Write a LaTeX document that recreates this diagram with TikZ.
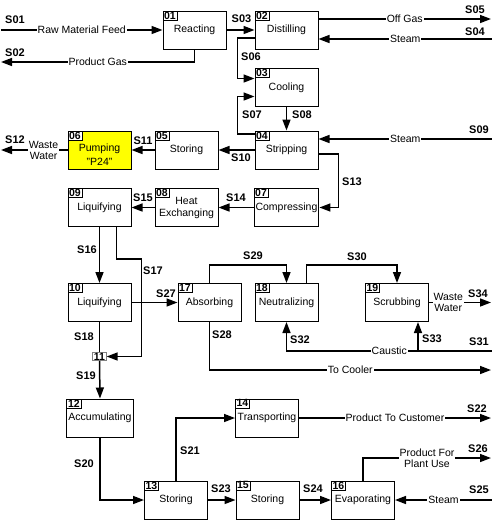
\documentclass[tikz,border=0pt]{standalone}
\usepackage{fontspec}
\setmainfont{Liberation Sans}
\usetikzlibrary{arrows.meta,positioning}

\definecolor{pumpyellow}{RGB}{255,255,0}

\tikzset{
    unit/.style={draw, line width=1pt, minimum width=63pt, minimum height=38pt,
        align=center, inner sep=1.5pt, font=\fontsize{10.5}{12}\selectfont},
    tag/.style={draw, line width=0.6pt, fill=white, anchor=north west,
        inner xsep=1.3pt, inner ysep=0.9pt, font=\bfseries\fontsize{10.5}{10.5}\selectfont},
    flow/.style={line width=1.5pt, -{Triangle[length=11pt,width=8pt]}},
    pipe/.style={line width=1.5pt},
    sid/.style={inner sep=0pt, font=\bfseries\fontsize{11}{11}\selectfont},
    tx/.style={fill=white, inner sep=1pt, align=center, font=\fontsize{10.5}{11}\selectfont},
}

\begin{document}
\begin{tikzpicture}[x=1pt, y=-1pt]
    \useasboundingbox (0,0) rectangle (492,520);

    % Process units
    \node[unit] (u01) at (194.5,30) {Reacting};
    \node[unit] (u02) at (286.5,30) {Distilling};
    \node[unit] (u03) at (286.5,87.5) {Cooling};
    \node[unit] (u04) at (286.5,150) {Stripping};
    \node[unit] (u05) at (186.5,150) {Storing};
    \node[unit, fill=pumpyellow] (u06) at (99.5,150) {\rule{0pt}{17pt}Pumping\\[1.5pt]"P24"};
    \node[unit] (u07) at (286.5,207.5) {Compressing};
    \node[unit] (u08) at (186.5,207.5) {Heat\\Exchanging};
    \node[unit] (u09) at (99.5,207.5) {Liquifying};
    \node[unit] (u10) at (99.5,302.5) {Liquifying};
    \node[tag, anchor=center, draw=gray, inner ysep=0.4pt] (u11) at (99.5,356.5) {11};
    \node[unit] (u12) at (100,418) {Accumulating};
    \node[unit] (u13) at (176,500) {Storing};
    \node[unit] (u14) at (267,418) {Transporting};
    \node[unit] (u15) at (267.5,500) {Storing};
    \node[unit] (u16) at (363,500) {Evaporating};
    \node[unit] (u17) at (209.5,302.5) {Absorbing};
    \node[unit] (u18) at (286.5,302.5) {Neutralizing};
    \node[unit] (u19) at (397,302.5) {Scrubbing};

    % Number tags
    \node[tag] (t01) at (u01.north west) {01};
    \node[tag] (t02) at (u02.north west) {02};
    \node[tag] (t03) at (u03.north west) {03};
    \node[tag] (t04) at (u04.north west) {04};
    \node[tag] (t05) at (u05.north west) {05};
    \node[tag] (t06) at (u06.north west) {06};
    \node[tag] (t07) at (u07.north west) {07};
    \node[tag] (t08) at (u08.north west) {08};
    \node[tag] (t09) at (u09.north west) {09};
    \node[tag] (t10) at (u10.north west) {10};
    \node[tag] (t12) at (u12.north west) {12};
    \node[tag] (t13) at (u13.north west) {13};
    \node[tag] (t14) at (u14.north west) {14};
    \node[tag] (t15) at (u15.north west) {15};
    \node[tag] (t16) at (u16.north west) {16};
    \node[tag] (t17) at (u17.north west) {17};
    \node[tag] (t18) at (u18.north west) {18};
    \node[tag] (t19) at (u19.north west) {19};

    % Free ends at the border
    \coordinate (f01) at (1,30);
    \coordinate (f02) at (1,62);
    \coordinate (f04) at (492,39);
    \coordinate (f05) at (491,19);
    \coordinate (f09) at (492,139);
    \coordinate (f12) at (1,150);
    \coordinate (f22) at (491,418);
    \coordinate (f25) at (492,500);
    \coordinate (f26) at (491,458);
    \coordinate (f28) at (491,370);
    \coordinate (f31) at (492,351);
    \coordinate (f34) at (491,302.5);
    \coordinate (j33) at ([xshift=21pt]u19.south);

    % Streams, top part
    \draw[flow] (f01) -- node[tx] {Raw Material Feed} (f01 -| u01.west);
    \draw[flow] (u01.south) |- node[tx, pos=0.75] {Product Gas} (f02);
    \draw[flow] (u01.east) -- (u02.west);
    \draw[flow] (f05 -| u02.east) -- node[tx] {Off Gas} (f05);
    \draw[flow] (f04) -- node[tx] {Steam} (f04 -| u02.east);
    \draw[flow] ([yshift=-8pt]u02.west) -- ++(-17,0) |- ([yshift=9pt]u03.west);
    \draw[flow] ([yshift=16pt]u04.west) -- ++(-17,0) |- ([yshift=-9pt]u03.west);
    \draw[flow] (u03.south) -- (u04.north);
    \draw[flow] (f09) -- node[tx] {Steam} (f09 -| u04.east);
    \draw[flow] (u04.west) -- (u05.east);
    \draw[flow] (u05.west) -- (u06.east);
    \draw[flow] (u06.west) -- node[tx, pos=0.36] {Waste\\Water} (f12);
    \draw[flow] ([yshift=-4pt]u04.east) -- ++(20,0) |- (u07.east);
    \draw[flow] (u07.west) -- (u08.east);
    \draw[flow] (u08.west) -- (u09.east);

    % Streams, middle part
    \draw[flow] (u09.south) -- (u10.north);
    \draw[flow] ([xshift=17pt]u09.south) |- ++(25,32) |- (u11.east);
    \draw[flow] (u10.east) -- (u17.west);
    \draw[pipe] (u10.south) -- (u11.north);
    \draw[flow] (u11.south) -- (u12.north);
    \draw[flow] (u17.south) |- node[tx, pos=0.75] {To Cooler} (f28);
    \draw[flow] (u17.north) -- ++(0,-18) -| (u18.north);
    \draw[flow] ([xshift=20pt]u18.north) -- ++(0,-18) -| (u19.north);
    \draw[flow] (u19.east) -- node[tx, pos=0.31] {Waste\\Water} (f34);
    \draw[flow] (f31) -- node[tx] {Caustic} (f31 -| u18.south) -- (u18.south);
    \draw[flow] (f31 -| j33) -- (j33);

    % Streams, bottom part
    \draw[flow] (u12.south) |- (u13.west);
    \draw[flow] (u13.north) |- (u14.west);
    \draw[flow] (u14.east) -- node[tx] {Product To Customer} (f22);
    \draw[flow] (u13.east) -- (u15.west);
    \draw[flow] (u15.east) -- (u16.west);
    \draw[flow] (f25) -- node[tx] {Steam} (f25 -| u16.east);
    \draw[flow] (u16.north) |- node[tx, pos=0.75] {Product For\\Plant Use} (f26);

    % Stream numbers
    \node[sid] (s01) at (15,20) {S01};
    \node[sid] (s02) at (15,53) {S02};
    \node[sid] (s03) at (241.5,19) {S03};
    \node[sid] (s04) at (475,32) {S04};
    \node[sid] (s05) at (475,10) {S05};
    \node[sid] (s06) at (251,57) {S06};
    \node[sid] (s07) at (252,115) {S07};
    \node[sid] (s08) at (302,115) {S08};
    \node[sid] (s09) at (479,130) {S09};
    \node[sid] (s10) at (241,158) {S10};
    \node[sid] (s11) at (143,141) {S11};
    \node[sid] (s12) at (15,140) {S12};
    \node[sid] (s13) at (352,182) {S13};
    \node[sid] (s14) at (236,198) {S14};
    \node[sid] (s15) at (143,198) {S15};
    \node[sid] (s16) at (87,250) {S16};
    \node[sid] (s17) at (153,271) {S17};
    \node[sid] (s18) at (84,337) {S18};
    \node[sid] (s19) at (86,376) {S19};
    \node[sid] (s20) at (84,464) {S20};
    \node[sid] (s21) at (190,451) {S21};
    \node[sid] (s22) at (477,409) {S22};
    \node[sid] (s23) at (221,489) {S23};
    \node[sid] (s24) at (313,489) {S24};
    \node[sid] (s25) at (479,490) {S25};
    \node[sid] (s26) at (478,449) {S26};
    \node[sid] (s27) at (166,294) {S27};
    \node[sid] (s28) at (222,335) {S28};
    \node[sid] (s29) at (253,256) {S29};
    \node[sid] (s30) at (357,257) {S30};
    \node[sid] (s31) at (479,342) {S31};
    \node[sid] (s32) at (300,340) {S32};
    \node[sid] (s33) at (432,339) {S33};
    \node[sid] (s34) at (478,294) {S34};
\end{tikzpicture}
\end{document}
